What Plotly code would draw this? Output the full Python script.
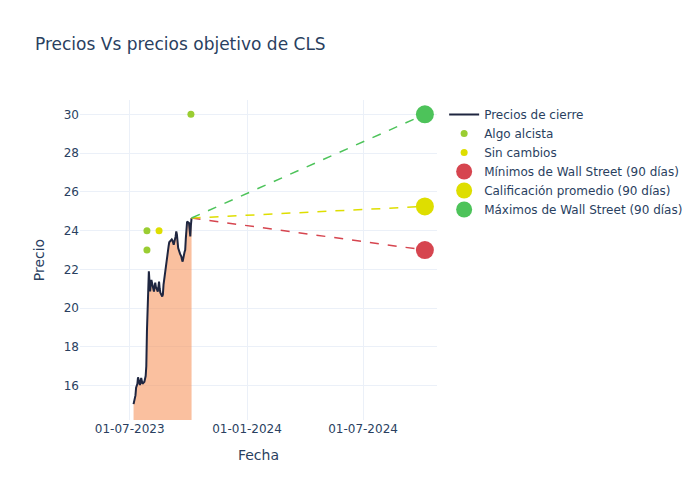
import plotly.graph_objects as go
import pandas as pd

# Closing prices (business days, 2023-07-07 .. 2023-10-06, excluding Labor Day)
dates = list(pd.bdate_range("2023-07-07", "2023-10-06").drop(pd.Timestamp("2023-09-04")).strftime("%Y-%m-%d"))
prices = [
    15.05,
    15.5, 15.9, 16.0, 16.1, 16.43,
    16.03, 16.2, 16.4, 16.25, 16.1,
    16.2, 16.35, 16.5, 17.0, 18.8,
    21.9, 21.2, 20.86, 21.2, 21.46,
    21.0, 20.86, 21.1, 21.32, 21.1,
    20.86, 21.1, 21.37, 21.0, 20.8,
    20.6, 20.7, 21.2, 21.46, 21.9,
    22.5, 22.7, 22.9, 23.2, 23.4,
    23.55, 23.5, 23.4, 23.27,
    23.7, 23.96, 23.8, 23.4, 23.1,
    22.8, 22.75, 22.66, 22.5, 22.4,
    22.9, 23.0, 23.6, 24.2, 24.47,
    24.39, 24.1, 23.7, 24.3, 24.65,
]

# Analyst ratings
alcista_dates = ["2023-07-28", "2023-07-28", "2023-10-05"]
alcista_values = [24.0, 23.0, 30.0]
sin_cambios_dates = ["2023-08-16"]
sin_cambios_values = [24.0]

# Wall Street targets (90 days)
target_date = "2024-10-06"
target_min = 23.0
target_avg = 25.25
target_max = 30.0

last_date = dates[-1]
last_price = prices[-1]

fig = go.Figure()

fig.add_trace(go.Scatter(
    x=dates, y=prices, mode="lines", fill="tozeroy",
    fillcolor="rgba(247,150,95,0.6)", line=dict(width=0),
    showlegend=False, hoverinfo="skip"))

fig.add_trace(go.Scatter(
    x=dates, y=prices, mode="lines", name="Precios de cierre",
    line=dict(color="#1f2640", width=2)))

fig.add_trace(go.Scatter(
    x=alcista_dates, y=alcista_values, mode="markers", name="Algo alcista",
    marker=dict(color="#9acd32", size=7)))

fig.add_trace(go.Scatter(
    x=sin_cambios_dates, y=sin_cambios_values, mode="markers", name="Sin cambios",
    marker=dict(color="#dede00", size=7)))

colors = {"min": "#d6454f", "avg": "#dede00", "max": "#4dc35a"}

for key, val in [("min", target_min), ("avg", target_avg), ("max", target_max)]:
    fig.add_trace(go.Scatter(
        x=[last_date, target_date], y=[last_price, val], mode="lines",
        line=dict(color=colors[key], width=1.5, dash="dash"),
        showlegend=False, hoverinfo="skip"))

fig.add_trace(go.Scatter(
    x=[target_date], y=[target_min], mode="markers",
    name="Mínimos de Wall Street (90 días)",
    marker=dict(color=colors["min"], size=18)))
fig.add_trace(go.Scatter(
    x=[target_date], y=[target_avg], mode="markers",
    name="Calificación promedio (90 días)",
    marker=dict(color=colors["avg"], size=18)))
fig.add_trace(go.Scatter(
    x=[target_date], y=[target_max], mode="markers",
    name="Máximos de Wall Street (90 días)",
    marker=dict(color=colors["max"], size=18)))

fig.update_layout(
    template="plotly_white",
    width=700, height=500,
    font=dict(family="DejaVu Sans"),
    title=dict(text="Precios Vs precios objetivo de CLS"),
    xaxis=dict(title="Fecha", tickformat="%d-%m-%Y", dtick="M6",
               tick0="2023-01-01", range=["2023-04-14", "2024-10-25"]),
    yaxis=dict(title="Precio", range=[14.23, 30.74], dtick=2),
)

fig.write_html("out.html", config={"displayModeBar": False},
               post_script="document.body.style.margin='0';")
